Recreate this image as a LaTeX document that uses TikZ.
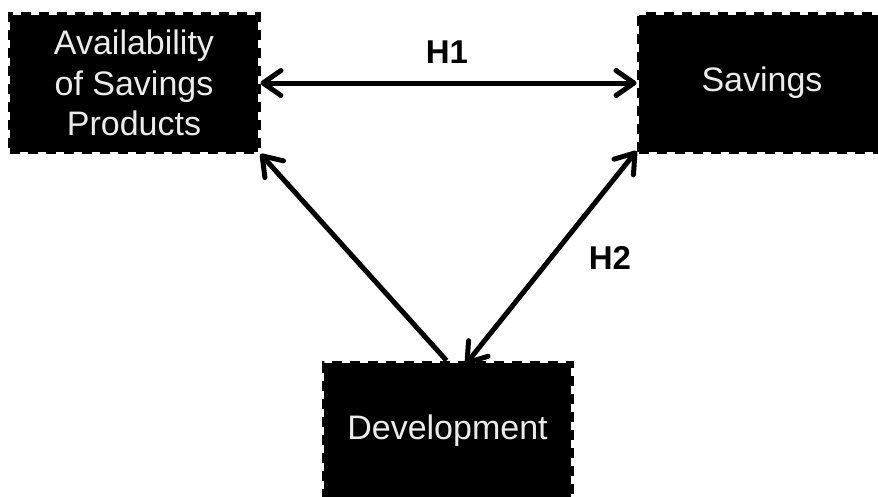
\documentclass[tikz,border=0pt]{standalone}
\usepackage{fontspec}
\setmainfont{Liberation Sans}
\usetikzlibrary{arrows.meta}
\begin{document}
\begin{tikzpicture}[x=1pt,y=-1pt,
  box/.style={rectangle, fill=black, draw=black, line width=5pt,
    dash pattern=on 10pt off 8pt, inner sep=0pt,
    text=white!92!black, font=\fontsize{34}{40.5}\selectfont, align=center},
  arr/.style={line width=5pt, {Straight Barb[length=18pt,width=25pt,line cap=round,line join=round]}-{Straight Barb[length=18pt,width=25pt,line cap=round,line join=round]}},
  oarr/.style={line width=5pt, -{Straight Barb[length=18pt,width=25pt,line cap=round,line join=round]}},
  lbl/.style={font=\bfseries\fontsize{33}{36}\selectfont}]
\useasboundingbox (0,0) rectangle (878,496);
\clip (0,0) rectangle (878,496);
\node[box, minimum width=248pt, minimum height=137pt] (avail) at (134,83) {Availability\\of Savings\\Products};
\node[box, minimum width=246pt, minimum height=137pt] (sav) at (762,83) {Savings};
\node[box, minimum width=247pt, minimum height=136pt] (dev) at (447.5,431) {Development};
\draw[arr] (avail.east) -- (sav.west);
\draw[oarr] ([xshift=-1pt]dev.north) -- (avail.south east);
\coordinate (devr) at ([xshift=18pt,yshift=-4pt]dev.north);
\draw[arr] (devr) -- ([yshift=3pt]sav.south west);
\node[lbl] (h1) at (447,52) {H1};
\node[lbl] (h2) at (610,258) {H2};
\end{tikzpicture}
\end{document}
